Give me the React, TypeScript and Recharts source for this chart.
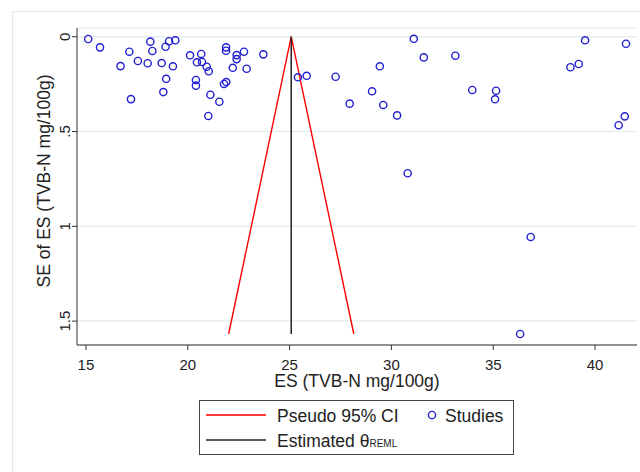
import React from 'react';
import { ScatterChart, Scatter, XAxis, YAxis, CartesianGrid } from 'recharts';

// ES (TVB-N mg/100g) and its standard error, one entry per study
const studyES = [
  15.11, 15.69, 17.13, 16.70, 17.55, 18.03, 18.16, 18.26, 17.21, 18.72,
  18.91, 19.08, 19.39, 19.27, 18.94, 18.80, 20.11, 20.66, 20.45, 20.70,
  20.93, 21.03, 20.40, 20.40, 21.11, 21.55, 21.01, 21.88, 21.88, 22.40,
  22.40, 22.76, 22.21, 22.89, 21.89, 21.78, 23.71, 25.41, 25.84, 27.26,
  27.95, 29.05, 29.43, 29.60, 30.28, 31.10, 31.59, 33.14, 33.97, 35.14,
  35.09, 38.79, 39.20, 39.51, 41.52, 41.46, 41.16, 30.80, 36.84, 36.32,
];
const studySE = [
  0.012, 0.056, 0.079, 0.155, 0.128, 0.140, 0.026, 0.075, 0.329, 0.139,
  0.053, 0.024, 0.019, 0.156, 0.222, 0.292, 0.098, 0.091, 0.135, 0.133,
  0.158, 0.182, 0.228, 0.258, 0.306, 0.343, 0.418, 0.056, 0.074, 0.097,
  0.118, 0.079, 0.164, 0.169, 0.239, 0.249, 0.093, 0.214, 0.206, 0.211,
  0.353, 0.288, 0.156, 0.360, 0.415, 0.011, 0.109, 0.100, 0.281, 0.285,
  0.330, 0.161, 0.144, 0.019, 0.037, 0.420, 0.467, 0.720, 1.056, 1.568,
];

const thetaREML = 25.08;
const seMax = 1.568;
const z95 = 1.96;

const xTicks = [15, 20, 25, 30, 35, 40];
const yTicks = [0, 0.5, 1, 1.5];

const studies = studyES.map((x, i) => ({ x, y: studySE[i] }));
const ciLeft = [
  { x: thetaREML - z95 * seMax, y: seMax },
  { x: thetaREML, y: 0 },
];
const ciRight = [
  { x: thetaREML, y: 0 },
  { x: thetaREML + z95 * seMax, y: seMax },
];
const estLine = [
  { x: thetaREML, y: 0 },
  { x: thetaREML, y: seMax },
];

const FONT = '"Liberation Sans", Arial, sans-serif';
const TXT = '#222';
const BLUE = '#2020d0';

const fmtY = (v: number) => (v === 0 ? '0' : v < 1 ? '.5' : String(v));

const YTick = ({ x, y, payload }: any) => (
  <text
    x={x}
    y={y}
    transform={`rotate(-90, ${x}, ${y})`}
    textAnchor="middle"
    fontSize={15}
    fontFamily={FONT}
    fill={TXT}
  >
    {fmtY(payload.value)}
  </text>
);

const Hollow = ({ cx, cy }: any) => (
  <circle cx={cx} cy={cy} r={3.6} fill="none" stroke={BLUE} strokeWidth={1.4} />
);

const NoDot = () => <g />;

export default function App() {
  return (
    <div style={{ position: 'absolute', left: 0, top: 0, width: 640, height: 472, background: '#fff' }}>
      <ScatterChart width={640} height={472} margin={{ top: 28, right: 3, bottom: 97, left: 17 }}>
        <CartesianGrid horizontal vertical={false} stroke="#e6edf0" strokeWidth={1.5} />
        <XAxis
          type="number"
          dataKey="x"
          domain={[14.56, 42.06]}
          ticks={xTicks}
          allowDataOverflow
          height={30}
          tickSize={5}
          tickMargin={9}
          axisLine={{ stroke: '#333' }}
          tickLine={{ stroke: '#333' }}
          tick={{ fontSize: 15, fontFamily: FONT, fill: TXT }}
        />
        <YAxis
          type="number"
          dataKey="y"
          reversed
          domain={[-0.046, 1.626]}
          ticks={yTicks}
          allowDataOverflow
          width={60}
          tickSize={5}
          tickMargin={2}
          axisLine={{ stroke: '#333' }}
          tickLine={{ stroke: '#333' }}
          tick={<YTick />}
        />
        <Scatter data={ciLeft} line={{ stroke: '#ff0000', strokeWidth: 1.4 }} shape={<NoDot />} isAnimationActive={false} />
        <Scatter data={ciRight} line={{ stroke: '#ff0000', strokeWidth: 1.4 }} shape={<NoDot />} isAnimationActive={false} />
        <Scatter data={estLine} line={{ stroke: '#222', strokeWidth: 1.5 }} shape={<NoDot />} isAnimationActive={false} />
        <Scatter data={studies} shape={<Hollow />} isAnimationActive={false} />
      </ScatterChart>
      <svg
        width={640}
        height={472}
        style={{ position: 'absolute', left: 0, top: 0, pointerEvents: 'none' }}
        fontFamily={FONT}
      >
        <path d="M12.5 480 V11.5 H650" fill="none" stroke="#e2e6ea" strokeWidth={1} />
        <text x={357} y={387} textAnchor="middle" fontSize={17.5} fill={TXT}>
          ES (TVB-N mg/100g)
        </text>
        <text x={50} y={181} transform="rotate(-90, 50, 181)" textAnchor="middle" fontSize={17.5} fill={TXT}>
          SE of ES (TVB-N mg/100g)
        </text>
        <rect x={199.5} y={400.5} width={314} height={54} fill="#fff" stroke="#444" strokeWidth={1} />
        <line x1={206} x2={266} y1={415} y2={415} stroke="#ff0000" strokeWidth={1.4} />
        <text x={277} y={421.5} fontSize={17.5} fill={TXT}>Pseudo 95% CI</text>
        <circle cx={432} cy={415} r={3.6} fill="none" stroke={BLUE} strokeWidth={1.4} />
        <text x={445} y={421.5} fontSize={17.5} fill={TXT}>Studies</text>
        <line x1={206} x2={266} y1={440} y2={440} stroke="#222" strokeWidth={1.5} />
        <text x={277} y={446.5} fontSize={17.5} fill={TXT}>
          Estimated θ<tspan fontSize={10}>REML</tspan>
        </text>
      </svg>
    </div>
  );
}
